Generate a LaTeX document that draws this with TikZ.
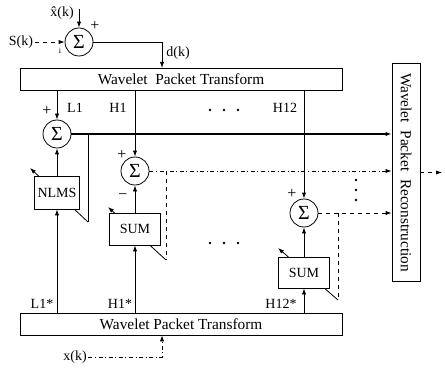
\documentclass[tikz,border=0pt]{standalone}
\usepackage{fontspec}
\setmainfont{Liberation Serif}
\usetikzlibrary{arrows.meta}

\tikzset{
  sumnode/.style={draw,circle,minimum size=21pt,inner sep=0pt,fill=white,
    font=\fontsize{15}{15}\selectfont},
  wpbox/.style={draw,rectangle,inner sep=0pt,fill=white,font=\fontsize{11.5}{13}\selectfont},
  adbox/.style={draw,rectangle,inner sep=0pt,fill=white,
    minimum width=38.25pt,minimum height=24pt},
  sig/.style={inner sep=1pt},
  sgn/.style={inner sep=0pt,font=\fontsize{12}{12}\selectfont},
  flow/.style={-{Latex[length=4.5pt,width=3.2pt]}},
}

\begin{document}
\begin{tikzpicture}[x=0.75pt,y=-0.75pt,font=\fontsize{10.5}{12}\selectfont,line width=0.6pt]
  \useasboundingbox (0,0) rectangle (445,370);

  % desired signal d(k)
  \node[sumnode] (sum0) at (79,42) {Σ};
  \node[sig] (sk) at (21,42) {S(k)};
  \node[sig] (xhat) at (62,13) {\^x(k)};
  \node[sgn] (p0) at (95,26) {+};
  \node[sgn,font=\fontsize{6}{6}\selectfont] (m0) at (60,51) {i};
  \node[sig] (dk) at (178,53) {d(k)};
  \coordinate (xin) at (79,9);
  \coordinate (din) at (162,68);
  \draw[flow] (xin) -- (sum0.north);
  \draw[flow,dashed] (sk.east) -- (sum0.west);
  \draw[flow] (sum0.east) -| (din);

  \node[wpbox,minimum width=241.5pt,minimum height=16.5pt] (wpt1) at (181,79)
    {Wavelet\ \ Packet Transform};
  \node[wpbox,rotate=-90,minimum width=164pt,minimum height=21pt] (wpr) at (406,172.5)
    {Wavelet\ \ Packet\ \ Reconstruction};

  % sub-band error nodes
  \node[sumnode] (sumL) at (57,134) {Σ};
  \node[sumnode] (sumH1) at (135,171) {Σ};
  \node[sumnode] (sumH12) at (304,213) {Σ};
  \foreach \s in {sumL,sumH1,sumH12}
    \draw[flow] (\s |- wpt1.south) -- (\s.north);

  \node[sig] (lL) at (75,108) {L1};
  \node[sig] (lH1) at (118,108) {H1};
  \node[sig] (lH12) at (285,108) {H12};
  \node[sgn] (pL) at (47,111) {+};
  \node[sgn] (pH1) at (122,155) {+};
  \node[sgn] (mH1) at (123,197) {−};
  \node[sgn] (pH12) at (292,194) {+};

  \draw[flow,line width=1.3pt] (sumL.east) -- (sumL.east -| wpr.south);
  \draw[flow,dash dot] (sumH1.east) -- (sumH1.east -| wpr.south);
  \draw[flow,dashed] (sumH12.east) -- (sumH12.east -| wpr.south);
  \draw[flow,dashed] (wpr.north) -- (442,172.5);

  % adaptation paths, drawn under the boxes
  \coordinate (eL) at (88,222);
  \coordinate (aL) at (30,168);
  \draw (sumL.east -| eL) -- (eL);
  \draw[flow] (eL) -- (aL);
  \coordinate (eH1) at (166,260);
  \coordinate (aH1) at (108,207);
  \draw[dashed] (sumH1.east -| eH1) -- (eH1);
  \draw[flow] (eH1) -- (aH1);
  \coordinate (eH12) at (338,300);
  \coordinate (aH12) at (278,248);
  \draw[dashed] (sumH12.east -| eH12) -- (eH12);
  \draw[flow] (eH12) -- (aH12);

  \node[adbox,minimum width=33.75pt,minimum height=24.75pt] (nlms) at (57,192.5) {NLMS};
  \node[adbox] (sum1) at (135,229) {SUM};
  \node[adbox,minimum height=23.25pt] (sum12) at (304,272.5) {SUM};
  \draw[flow] (nlms.north) -- (sumL.south);
  \draw[flow] (sum1.north) -- (sumH1.south);
  \draw[flow] (sum12.north) -- (sumH12.south);

  \node[wpbox,minimum width=241.5pt,minimum height=16.5pt] (wpt2) at (181,324)
    {Wavelet Packet Transform};
  \foreach \b in {nlms,sum1,sum12}
    \draw[flow] (\b |- wpt2.north) -- (\b.south);
  \node[sig] (lLs) at (42,304) {L1*};
  \node[sig] (lH1s) at (120,304) {H1*};
  \node[sig] (lH12s) at (281,304) {H12*};

  \node[sig] (xk) at (75,357) {x(k)};
  \draw[flow,dash dot] (xk.east) -| (wpt2.south -| din);

  % omitted channels
  \foreach \dx in {210,224,238} {
    \fill (\dx,110) circle (1.1pt);
    \fill (\dx,243) circle (1.1pt);
  }
  \foreach \dy in {180,190,200}
    \fill (356,\dy) circle (1.1pt);
\end{tikzpicture}
\end{document}
